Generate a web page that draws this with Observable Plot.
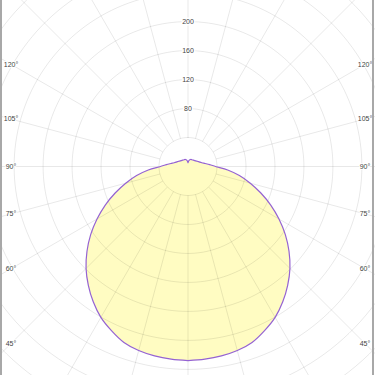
<!DOCTYPE html>
<html><head><meta charset="utf-8">
<script src="https://cdn.jsdelivr.net/npm/d3@7"></script>
<script src="https://cdn.jsdelivr.net/npm/@observablehq/plot@0.6"></script>
<style>
body{margin:0;background:#fff;}
#wrap{position:relative;width:375px;height:375px;overflow:hidden;}
#wrap svg{display:block;}
#wrap::before,#wrap::after{content:"";position:absolute;top:0;bottom:0;width:2px;background:#a8a8a8;}
#wrap::before{left:0}
#wrap::after{right:1px}
</style></head><body><div id="wrap"></div>
<script>
// Luminous intensity (cd/klm) by angle from nadir, 0..180 deg (symmetric)
const angles =    [0,  5,  10,    15,  20,    25,  30,    35,  40,  45,  50,  55,  60,  65,  70,  75, 80, 85, 90, 95, 100, 105, 110, 115, 120, 130, 140, 150, 160, 170, 175, 180];
const intensity = [268,267,265.5, 263, 258.5, 250, 240.5, 228, 214, 199, 182, 164, 145, 126, 107, 89, 72, 55, 38, 30, 24,  20,  17.5,16,  14.5,12.5,11.5,10.8,10.3,8.5, 7,   5];
const ringValues = [40, 80, 120, 160, 200, 240, 280, 320, 360, 400, 440];
const ringLabels = [80, 120, 160, 200];
const angleLabels = [45, 60, 75, 90, 105, 120];
const spokeAngles = [0,15,30,45,60,75,90,105,120,135,150,165,180,195,210,225,240,255,270,285,300,315,330,345];

const k = 0.7245;           // px per cd
const W = 375, H = 375, cx = 187.5, cy = 166;
const rad = d => d * Math.PI / 180;

// outline (right half then mirrored left half)
const curve = [];
angles.forEach((a, i) => curve.push({x: intensity[i] * Math.sin(rad(a)), y: -intensity[i] * Math.cos(rad(a))}));
for (let i = angles.length - 2; i >= 0; i--) curve.push({x: -intensity[i] * Math.sin(rad(angles[i])), y: -intensity[i] * Math.cos(rad(angles[i]))});
curve.push(curve[0]);

// rings
const ringPts = [];
ringValues.forEach(r => { for (let t = 0; t <= 360; t += 2) ringPts.push({r, x: r * Math.sin(rad(t)), y: r * Math.cos(rad(t))}); });

const spokes = spokeAngles.map(a => ({a, x1: 40 * Math.sin(rad(a)), y1: -40 * Math.cos(rad(a)), x2: 700 * Math.sin(rad(a)), y2: -700 * Math.cos(rad(a))}));

const lx = 177 / k;
const aLabels = [];
angleLabels.forEach(a => {
  const cot = Math.cos(rad(a)) / Math.sin(rad(a));
  aLabels.push({x: -lx, y: -lx * cot, t: a + "°"});
  aLabels.push({x: lx, y: -lx * cot, t: a + "°"});
});

const grid = {stroke: "#000", strokeOpacity: 0.09, strokeWidth: 1};

const chart = Plot.plot({
  width: W, height: H, margin: 0,
  x: {domain: [-cx / k, (W - cx) / k], axis: null},
  y: {domain: [-(H - cy) / k, cy / k], axis: null},
  style: {fontFamily: "'Liberation Sans', Arial, sans-serif", fontSize: "7px", background: "transparent", overflow: "hidden"},
  marks: [
    Plot.line(curve, {x: "x", y: "y", fill: "#fffcc2", stroke: "none", curve: "catmull-rom"}),
    Plot.line(ringPts, {x: "x", y: "y", z: "r", ...grid}),
    Plot.link(spokes, {x1: "x1", y1: "y1", x2: "x2", y2: "y2", ...grid}),
    Plot.line(curve, {x: "x", y: "y", stroke: "#9563d3", strokeWidth: 1.2, curve: "catmull-rom"}),
    Plot.text(ringLabels, {x: () => 0, y: d => d, text: d => String(d), fill: "#444", stroke: "white", strokeWidth: 3, fontSize: 7}),
    Plot.text(aLabels, {x: "x", y: "y", text: "t", fill: "#444", stroke: "white", strokeWidth: 2, fontSize: 7})
  ]
});
document.getElementById("wrap").appendChild(chart);
</script></body></html>
